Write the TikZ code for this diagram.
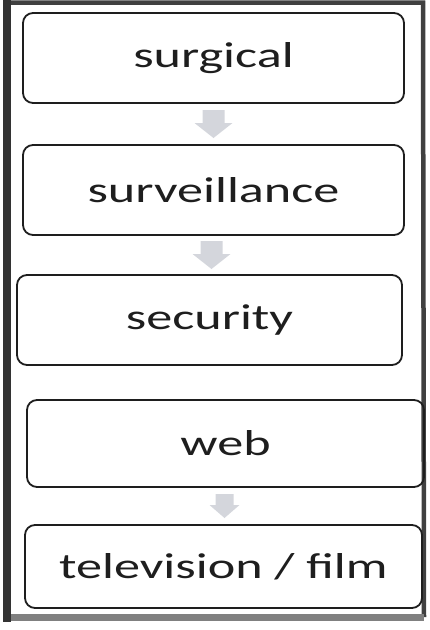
\documentclass[tikz,border=0pt]{standalone}
\usepackage{fontspec}
\setmainfont{Carlito}[FakeStretch=1.45]
\usetikzlibrary{calc}
\definecolor{ink}{HTML}{1E1E1E}
\definecolor{arrowfill}{HTML}{D4D6DC}
\tikzset{
  itembox/.style={draw=ink, line width=1.8pt, rounded corners=10pt, inner sep=0pt,
    font=\fontsize{36}{40}\selectfont, text=ink, anchor=center},
  frameline/.style={draw=black!75, line width=4.5pt},
  pics/blockdown/.style={code={
    \fill[arrowfill] (-11,-14) -- (11,-14) -- (11,-1) -- (19,-1) -- (0,14) -- (-19,-1) -- (-11,-1) -- cycle;
  }},
  pics/smallblockdown/.style={code={
    \fill[arrowfill] (-9,-12) -- (9,-12) -- (9,-1) -- (15,-1) -- (0,12) -- (-15,-1) -- (-9,-1) -- cycle;
  }}
}
\begin{document}
\begin{tikzpicture}[x=1pt,y=-1pt]
\useasboundingbox (0,0) rectangle (429,630);
% outer frame
\draw[frameline] (8,2.5) -- (423,2.5) -- (424,617);
\draw[draw=black!50, line width=7pt] (3,617) -- (424,617);
\draw[draw=black!80, line width=8pt] (7,0) -- (7,622);
% boxes
\node[itembox, minimum width=381pt, minimum height=90pt] (b1) at (213.5,58) {surgical};
\node[itembox, minimum width=381pt, minimum height=90pt] (b2) at (213.5,190) {surveillance};
\node[itembox, minimum width=385pt, minimum height=90pt] (b3) at (209.5,320) {security};
\node[itembox, minimum width=397pt, minimum height=87pt] (b4) at (225.5,443.5) {web};
\node[itembox, minimum width=397pt, minimum height=83pt] (b5) at (223.5,566.5) {television / film};
% arrows
\coordinate (a1) at ($(b1.south)!0.5!(b2.north)$);
\coordinate (a2) at ($(b2.south)!0.5!(b3.north)$);
\coordinate (a3) at ($(b4.south)!0.5!(b5.north)$);
\pic at (a1) {blockdown};
\pic at (a2) {blockdown};
\pic at (a3) {smallblockdown};
\end{tikzpicture}
\end{document}
